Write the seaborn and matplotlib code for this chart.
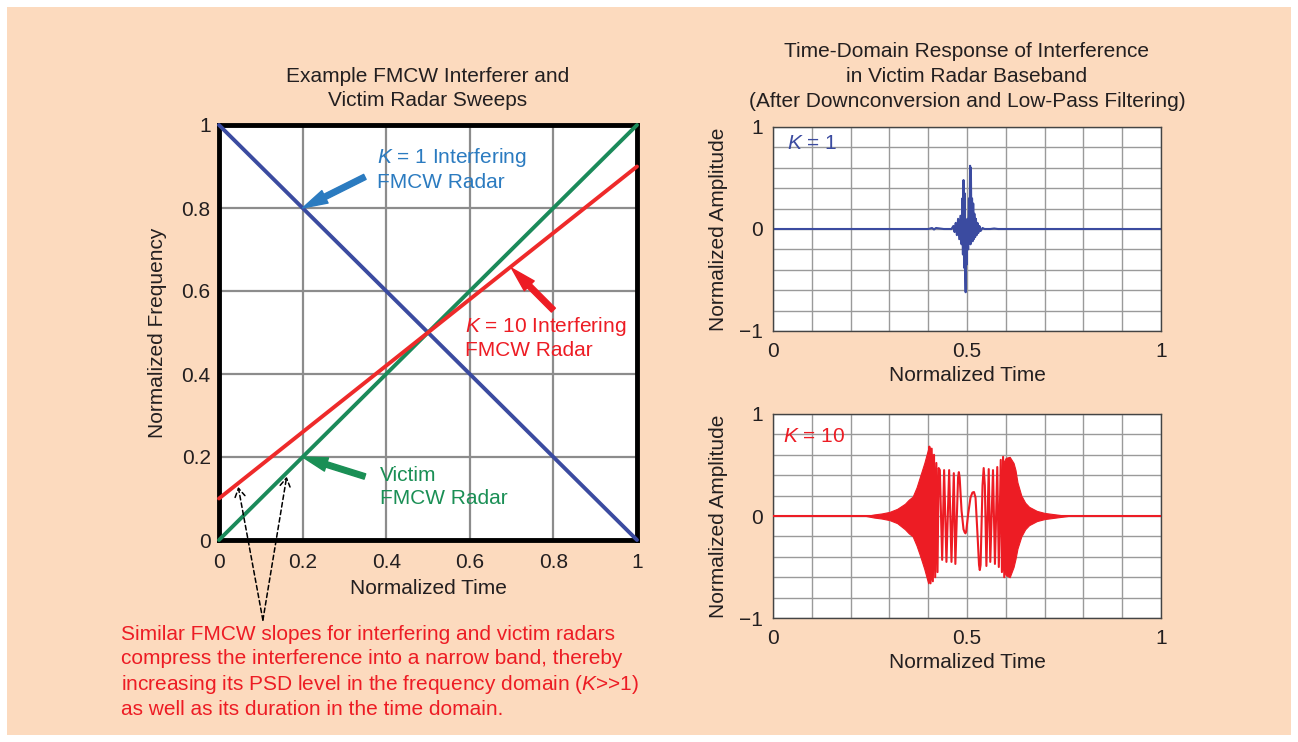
import numpy as np
import matplotlib
matplotlib.use("Agg")
import matplotlib.pyplot as plt
import seaborn as sns
from matplotlib.patches import Rectangle
from matplotlib.ticker import MultipleLocator

# sweep lines (left panel)
sweep_t = [0.0, 1.0]
k1_sweep = [1.0, 0.0]
victim_sweep = [0.0, 1.0]
k10_sweep = [0.1, 0.9]

# K = 1 baseband response
k1_t = [0.000, 0.400, 0.410, 0.415, 0.420, 0.440, 0.460, 0.465, 0.468, 0.471,
        0.474, 0.477, 0.480, 0.483, 0.486, 0.488, 0.4895, 0.491, 0.4925, 0.494,
        0.4955, 0.4965, 0.498, 0.499, 0.501, 0.503, 0.505, 0.5065, 0.508, 0.509,
        0.510, 0.5115, 0.513, 0.5145, 0.516, 0.5175, 0.519, 0.521, 0.523, 0.525,
        0.527, 0.529, 0.532, 0.535, 0.540, 0.545, 0.560, 0.570, 0.580, 1.000]
k1_amp = [0.00, 0.00, 0.01, -0.005, 0.01, 0.00, 0.00, 0.03, -0.03, 0.06,
          -0.06, 0.10, -0.10, 0.13, -0.15, 0.30, -0.25, 0.48, -0.38, 0.35,
          -0.45, -0.62, 0.05, -0.35, 0.10, -0.20, 0.30, -0.10, 0.62, -0.15,
          0.60, -0.05, 0.30, -0.12, 0.25, -0.10, 0.15, -0.08, 0.10, -0.06,
          0.06, -0.04, 0.03, -0.02, 0.01, 0.00, 0.00, 0.005, 0.00, 0.00]

# K = 10 baseband response: resolvable oscillations
k10_t = [0.000, 0.240, 0.400, 0.403, 0.406, 0.409, 0.412, 0.415, 0.418, 0.421,
         0.424, 0.427, 0.430, 0.436, 0.441, 0.447, 0.454, 0.460, 0.466, 0.470,
         0.477, 0.479, 0.481, 0.486, 0.491, 0.494, 0.496, 0.498, 0.503, 0.509,
         0.514, 0.518, 0.522, 0.528, 0.531, 0.533, 0.535, 0.540, 0.543, 0.546,
         0.550, 0.556, 0.560, 0.567, 0.572, 0.578, 0.582, 0.587, 0.590, 0.593,
         0.596, 0.600, 0.760, 1.000]
k10_amp = [0.00, 0.00, 0.00, 0.68, -0.66, 0.66, -0.64, 0.60, -0.60, 0.52,
           -0.55, 0.47, 0.45, -0.43, 0.45, -0.45, 0.45, -0.45, 0.42, -0.47,
           0.38, 0.43, 0.38, 0.05, -0.13, -0.16, -0.17, -0.15, 0.02, 0.18,
           0.23, 0.235, 0.18, -0.25, -0.48, -0.53, -0.48, 0.30, 0.47, 0.30,
           -0.49, 0.46, -0.45, 0.45, -0.47, 0.48, -0.50, 0.55, -0.55, 0.58,
           -0.60, 0.00, 0.00, 0.00]

# K = 10 dense (unresolved) lobes: envelope
lobe1_t = [0.24, 0.26, 0.28, 0.30, 0.32, 0.34, 0.35, 0.36, 0.37, 0.38, 0.39, 0.40, 0.41, 0.42]
lobe1_hi = [0.0, 0.015, 0.025, 0.04, 0.07, 0.12, 0.16, 0.19, 0.28, 0.40, 0.52, 0.66, 0.60, 0.40]
lobe1_lo = [0.0, -0.015, -0.025, -0.04, -0.07, -0.13, -0.17, -0.20, -0.29, -0.40, -0.52, -0.66, -0.60, -0.42]
lobe2_t = [0.59, 0.60, 0.61, 0.62, 0.625, 0.63, 0.64, 0.65, 0.66, 0.68, 0.70, 0.72, 0.74, 0.76]
lobe2_hi = [0.50, 0.57, 0.58, 0.52, 0.45, 0.33, 0.20, 0.13, 0.09, 0.05, 0.03, 0.02, 0.01, 0.0]
lobe2_lo = [-0.50, -0.58, -0.60, -0.50, -0.42, -0.32, -0.20, -0.13, -0.09, -0.05, -0.03, -0.02, -0.01, 0.0]

left_ticks = [0, 0.2, 0.4, 0.6, 0.8, 1]
left_ticklabels = ["0", "0.2", "0.4", "0.6", "0.8", "1"]
right_xticks = [0, 0.5, 1]
right_xticklabels = ["0", "0.5", "1"]
right_yticks = [-1, 0, 1]
right_yticklabels = ["\u22121", "0", "1"]

peach = "#FCDABE"
ink = "#231F20"
grid_col = "#8C8C8C"
blue_line = "#3B4BA0"
green_line = "#1B8A5A"
red_line = "#EE2A2A"
blue_txt = "#2B7BC0"
green_txt = "#1A8F55"
red_txt = "#ED1C24"

sns.set_theme(style="white")
plt.rcParams["font.family"] = ["Liberation Sans", "DejaVu Sans"]
plt.rcParams["mathtext.fontset"] = "custom"
plt.rcParams["mathtext.rm"] = "Liberation Sans"
plt.rcParams["mathtext.it"] = "Liberation Sans:italic"
plt.rcParams["text.color"] = ink

W, H = 1298, 742
fig = plt.figure(figsize=(W / 100, H / 100), dpi=100, facecolor="white")
fig.patches.append(Rectangle((7 / W, 7 / H), (W - 14) / W, (H - 14) / H,
                             transform=fig.transFigure, facecolor=peach,
                             edgecolor="none", zorder=-10))

FS = 15

# ---- left panel ----
ax = fig.add_axes([219 / W, 1 - 540 / H, 418 / W, 415 / H])
ax.set_facecolor("white")
ax.set_xlim(0, 1)
ax.set_ylim(0, 1)
ax.set_xticks(left_ticks)
ax.set_xticklabels(left_ticklabels)
ax.set_yticks(left_ticks)
ax.set_yticklabels(left_ticklabels)
ax.tick_params(length=0, labelsize=FS, colors=ink, pad=9)
ax.tick_params(axis="y", pad=6)
ax.grid(True, color=grid_col, linewidth=1.6)
for s in ax.spines.values():
    s.set_color("black")
    s.set_linewidth(3.5)
    s.set_zorder(5)

for yy, col in [(k1_sweep, blue_line), (victim_sweep, green_line), (k10_sweep, red_line)]:
    sns.lineplot(x=sweep_t, y=yy, ax=ax, color=col, linewidth=2.8,
                 estimator=None, sort=False, clip_on=False, zorder=6)

ax.set_xlabel("Normalized Time", fontsize=FS, color=ink)
ax.set_ylabel("Normalized Frequency", fontsize=FS, color=ink)
ax.xaxis.set_label_coords(0.5, -0.095)
ax.yaxis.set_label_coords(-0.125, 0.5)

arrow_kw = dict(arrowstyle="simple,head_length=0.9,head_width=0.5,tail_width=0.2",
                mutation_scale=20, shrinkA=0, shrinkB=0)
ax.annotate("", xy=(0.2, 0.8), xytext=(0.349, 0.875),
            arrowprops=dict(color=blue_txt, **arrow_kw), zorder=7)
ax.annotate("", xy=(0.70, 0.655), xytext=(0.80, 0.554),
            arrowprops=dict(color=red_txt, **arrow_kw), zorder=7)
ax.annotate("", xy=(0.2, 0.2), xytext=(0.349, 0.153),
            arrowprops=dict(color=green_txt, **arrow_kw), zorder=7)

ax.text(0.377, 0.894, "$K$ = 1 Interfering\nFMCW Radar", color=blue_txt,
        fontsize=FS, ha="left", va="center", linespacing=1.25, zorder=7)
ax.text(0.588, 0.488, "$K$ = 10 Interfering\nFMCW Radar", color=red_txt,
        fontsize=FS, ha="left", va="center", linespacing=1.25, zorder=7)
ax.text(0.385, 0.127, "Victim\nFMCW Radar", color=green_txt,
        fontsize=FS, ha="left", va="center", linespacing=1.25, zorder=7)

dash_kw = dict(arrowstyle="->,head_length=0.5,head_width=0.3", color="black",
               linestyle=(0, (3, 2)), linewidth=1.1, shrinkA=0, shrinkB=0)
for hx, hy in [(0.046, 0.128), (0.162, 0.153)]:
    ax.annotate("", xy=(hx, hy), xytext=(0.105, -0.193),
                arrowprops=dash_kw, annotation_clip=False, zorder=8)

fig.text(428 / W, 1 - 88.5 / H, "Example FMCW Interferer and\nVictim Radar Sweeps",
         fontsize=FS, ha="center", va="center", linespacing=1.4, color=ink)

fig.text(121 / W, 1 - 625 / H,
         "Similar FMCW slopes for interfering and victim radars\n"
         "compress the interference into a narrow band, thereby\n"
         "increasing its PSD level in the frequency domain ($K$>>1)\n"
         "as well as its duration in the time domain.",
         fontsize=FS, ha="left", va="top", linespacing=1.3, color=red_txt)

# ---- right panels ----
fig.text(967 / W, 1 - 76.5 / H,
         "Time-Domain Response of Interference\nin Victim Radar Baseband\n"
         "(After Downconversion and Low-Pass Filtering)",
         fontsize=FS, ha="center", va="center", linespacing=1.42, color=ink)


def style_right(a):
    a.set_facecolor("white")
    a.set_xlim(0, 1)
    a.set_ylim(-1, 1)
    a.set_xticks(right_xticks)
    a.set_xticklabels(right_xticklabels)
    a.set_yticks(right_yticks)
    a.set_yticklabels(right_yticklabels)
    a.xaxis.set_minor_locator(MultipleLocator(0.1))
    a.yaxis.set_minor_locator(MultipleLocator(0.2))
    a.tick_params(which="both", length=0, labelsize=FS, colors=ink)
    a.tick_params(axis="x", pad=8)
    a.tick_params(axis="y", pad=7)
    a.grid(True, which="both", color="#9A9A9A", linewidth=1.0)
    for s in a.spines.values():
        s.set_color("#444444")
        s.set_linewidth(1.0)
    a.set_xlabel("Normalized Time", fontsize=FS, color=ink)
    a.set_ylabel("Normalized Amplitude", fontsize=FS, color=ink)
    a.xaxis.set_label_coords(0.5, -0.17)
    a.yaxis.set_label_coords(-0.115, 0.5)


ax1 = fig.add_axes([773 / W, 1 - 331 / H, 388 / W, 204 / H])
style_right(ax1)
sns.lineplot(x=k1_t, y=k1_amp, ax=ax1, color=blue_line, linewidth=1.5,
             estimator=None, sort=False)
ax1.text(0.035, 0.92, "$K$ = 1", transform=ax1.transAxes, color=blue_line,
         fontsize=FS, ha="left", va="center")

ax2 = fig.add_axes([773 / W, 1 - 618 / H, 388 / W, 204 / H])
style_right(ax2)
ax2.fill_between(lobe1_t, lobe1_lo, lobe1_hi, color=red_txt, linewidth=0.8, zorder=3)
ax2.fill_between(lobe2_t, lobe2_lo, lobe2_hi, color=red_txt, linewidth=0.8, zorder=3)
sns.lineplot(x=k10_t, y=k10_amp, ax=ax2, color=red_txt, linewidth=1.5,
             estimator=None, sort=False, zorder=4)
ax2.text(0.025, 0.89, "$K$ = 10", transform=ax2.transAxes, color=red_txt,
         fontsize=FS, ha="left", va="center")

fig.savefig("out.png", dpi=100, facecolor="white")
